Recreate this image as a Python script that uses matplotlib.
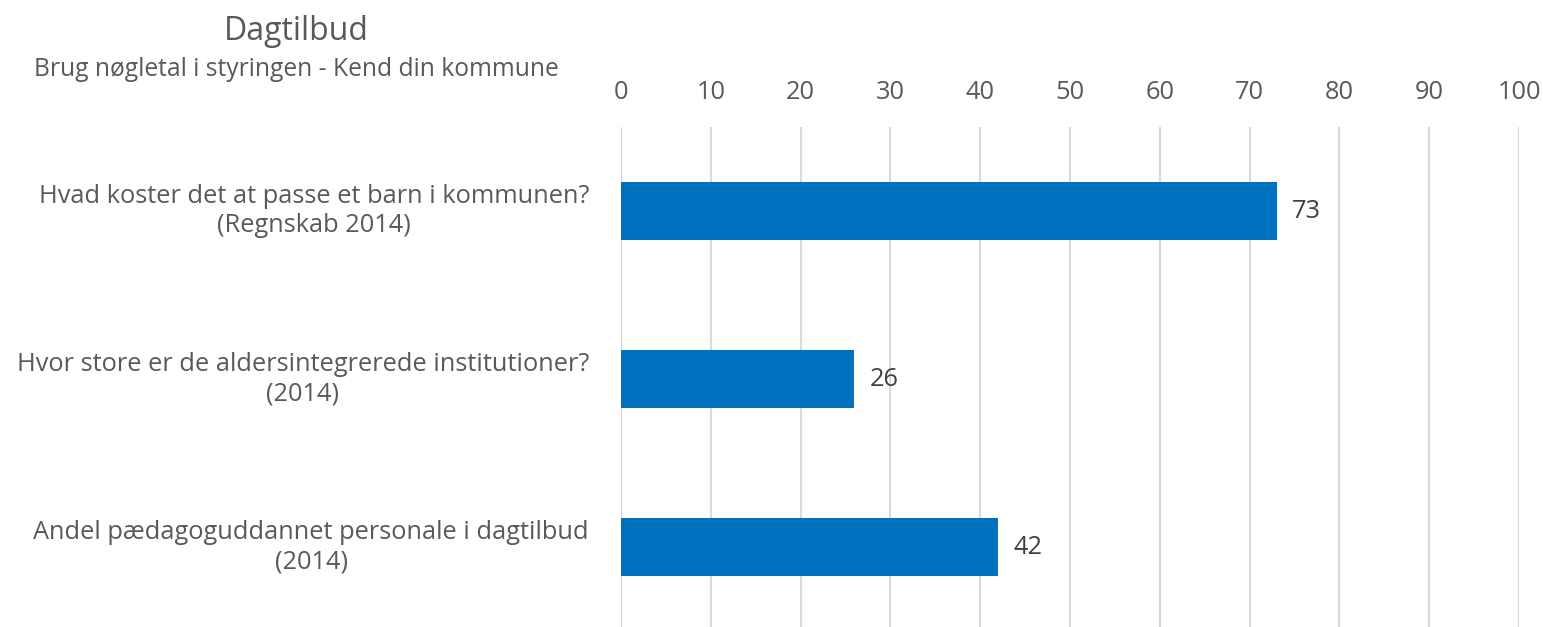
import matplotlib
matplotlib.use("Agg")
import matplotlib.pyplot as plt

plt.rcParams['font.family'] = ['Open Sans', 'DejaVu Sans']

title = "Dagtilbud"
subtitle = "Brug nøgletal i styringen - Kend din kommune"
categories = [
    "Hvad koster det at passe et barn i kommunen?\n(Regnskab 2014)",
    "Hvor store er de aldersintegrerede institutioner?\n(2014)",
    "Andel pædagoguddannet personale i dagtilbud\n(2014)",
]
values = [73, 26, 42]
xticks = list(range(0, 101, 10))

W, H = 1543, 627
fig = plt.figure(figsize=(W / 100, H / 100), dpi=100)
left, right, top, bottom = 621, 1519, 127, 0
ax = fig.add_axes([left / W, bottom / H, (right - left) / W, (H - top - bottom) / H])

pos = list(range(len(categories)))
ax.barh(pos, values, height=0.345, color="#0070C0", zorder=3)
ax.set_xlim(0, 100)
ax.set_ylim(2.476, -0.5)
ax.set_xticks(xticks)
ax.xaxis.tick_top()
ax.tick_params(axis='x', length=0, pad=16, labelsize=18.3, labelcolor="#595959")
ax.set_yticks(pos)
ax.set_yticklabels([])
ax.tick_params(axis='y', length=0)
ax.grid(axis='x', color="#d9d9d9", linewidth=1.5, zorder=0)
for s in ax.spines.values():
    s.set_visible(False)

for p, v, c in zip(pos, values, categories):
    ax.annotate(str(v), xy=(v, p), xytext=(11, 0), textcoords='offset points',
                ha='left', va='center', fontsize=18.3, color="#404040")
    ax.annotate(c, xy=(0, p), xycoords=('axes fraction', 'data'), xytext=(-23, 0),
                textcoords='offset points', ha='right', va='center', multialignment='center',
                fontsize=18.3, color="#595959", linespacing=1.22)

fig.text(296 / W, 1 - 32 / H, title, ha='center', va='center', fontsize=23, color="#595959")
fig.text(296 / W, 1 - 70 / H, subtitle, ha='center', va='center', fontsize=17.7, color="#595959")

fig.savefig("out.png", dpi=100, facecolor="white")
